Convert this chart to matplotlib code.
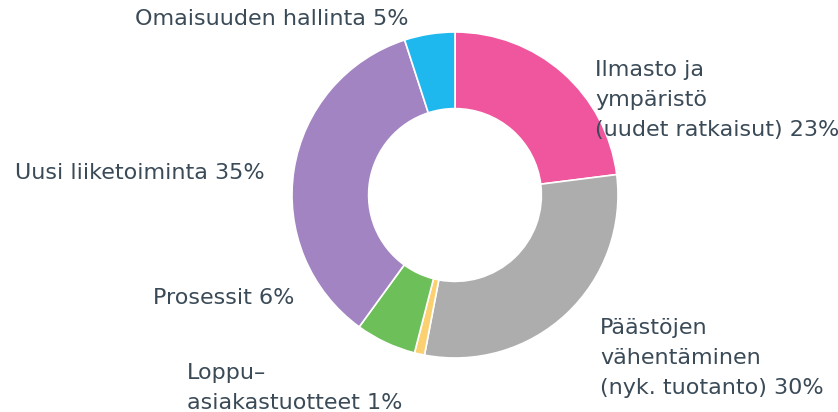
import matplotlib.pyplot as plt

# slices clockwise from 12 o'clock
labels = ['Ilmasto ja\nympäristö\n(uudet ratkaisut) 23%',
          'Päästöjen\nvähentäminen\n(nyk. tuotanto) 30%',
          'Loppu–\nasiakastuotteet 1%',
          'Prosessit 6%',
          'Uusi liiketoiminta 35%',
          'Omaisuuden hallinta 5%']
values = [23, 30, 1, 6, 35, 5]
colors = ['#f0569e', '#adadad', '#fbd071', '#6dbf59', '#a184c1', '#1fb8ee']

# label anchor points in pixels (x left edge, y baseline of first line, from top)
label_pos = [(595, 76), (600, 334), (187, 379), (153, 304), (15, 179), (135, 25)]

W, H = 838, 412
fig = plt.figure(figsize=(W / 100, H / 100), dpi=100)
ax = fig.add_axes([0, 0, 1, 1])

cx, cy, r = 455, 195, 163
ax.pie(values, colors=colors, startangle=90, counterclock=False,
       center=(cx, H - cy), radius=r,
       wedgeprops=dict(width=r * 0.47, edgecolor='white', linewidth=1.2))

for lab, (x, y) in zip(labels, label_pos):
    for i, line in enumerate(lab.split('\n')):
        ax.text(x, H - y - i * 30, line, ha='left', va='baseline',
                fontsize=16, color='#3a4a57')

ax.set_xlim(0, W)
ax.set_ylim(0, H)
ax.set_aspect('equal')
ax.axis('off')

fig.savefig('out.png', dpi=100)
